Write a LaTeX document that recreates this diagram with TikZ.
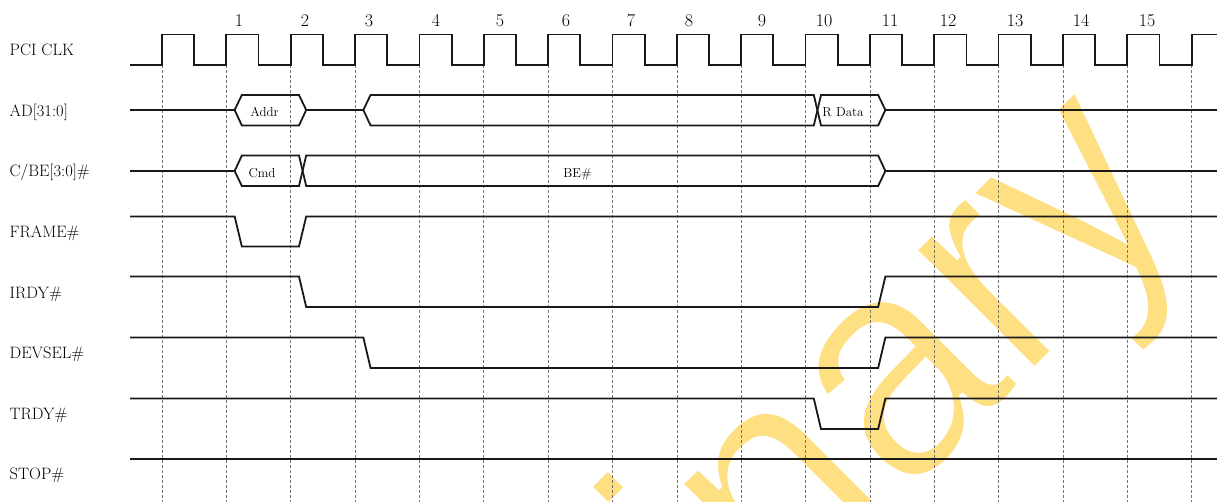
\documentclass[tikz,border=0pt]{standalone}
\usepackage{fontspec}
\newfontfamily\wmfont[FakeStretch=0.93]{Liberation Sans}
\definecolor{wmyellow}{RGB}{254,223,130}
\definecolor{sigcol}{RGB}{25,25,25}
\tikzset{
  sig/.style={line width=1.8pt, draw=sigcol, line join=miter},
  gridline/.style={draw=black!55, line width=0.6pt, dash pattern=on 3pt off 2pt},
  lbl/.style={anchor=base west, inner sep=0pt, font=\fontsize{16.5}{18}\selectfont},
  num/.style={anchor=base, inner sep=0pt, font=\fontsize{18}{20}\selectfont},
  bustext/.style={anchor=base, inner sep=0pt, font=\fontsize{13}{15}\selectfont},
  wm/.style={anchor=base west, inner sep=0pt, rotate=45, text=wmyellow,
    font=\wmfont\fontsize{320}{320}\selectfont},
}
\def\E#1{(162+64.35*(#1))}
\def\ta{8.3}
\def\tb{15.5}
\begin{document}
\begin{tikzpicture}[x=1pt,y=-1pt]
\useasboundingbox (0,0) rectangle (1217,502);
\clip (0,0) rectangle (1217,502);
% watermark
\node[wm] (wmark) at (142.9,1261.1) {\special{pdf:literal direct 2 Tr 5 w 1 1 1 RG}Preliminary\special{pdf:literal direct 0 Tr}};
% grid
\foreach \k in {0,...,16}
  \draw[gridline] ({\E{\k}},65) -- ({\E{\k}},502);
% clock
\draw[sig] (130,65)
  \foreach \k in {0,...,15}{ -- ({\E{\k}},65) -- ({\E{\k}},34.5) -- ({\E{\k}+32.2},34.5) -- ({\E{\k}+32.2},65) }
  -- ({\E{16}},65) -- ({\E{16}},34.5) -- (1217,34.5);
% clock numbers
\foreach \k/\x in {1/239,2/305,3/369,4/436,5/500,6/566,7/631,8/689,9/762,10/824,11/890,12/948,13/1015,14/1081,15/1147}
  \node[num] (n\k) at (\x,26.7) {\k};
% labels
\node[lbl] (lclk) at (9.5,55.8) {PCI CLK};
\node[lbl] (lad) at (9.5,116.4) {AD[31:0]};
\node[lbl] (lcbe) at (9.5,177) {C/BE[3:0]\#};
\node[lbl] (lframe) at (9.5,237.6) {FRAME\#};
\node[lbl] (lirdy) at (9.5,298.2) {IRDY\#};
\node[lbl] (ldevsel) at (9.5,358.8) {DEVSEL\#};
\node[lbl] (ltrdy) at (9.5,419.4) {TRDY\#};
\node[lbl] (lstop) at (9.5,479.5) {STOP\#};
% AD[31:0]
\def\m{110}\def\t{95}\def\b{125.5}
\draw[sig] (130,\m) -- ({\E{1}+\ta},\m);
\draw[sig] ({\E{1}+\ta},\m) -- ({\E{1}+\tb},\t) -- ({\E{2}+\ta},\t) -- ({\E{2}+\tb},\m)
  -- ({\E{2}+\ta},\b) -- ({\E{1}+\tb},\b) -- cycle;
\draw[sig] ({\E{2}+\tb},\m) -- ({\E{3}+\ta},\m) -- ({\E{3}+\tb},\t) -- ({\E{10}+\ta},\t)
  -- ({\E{10}+\tb},\b) -- ({\E{11}+\ta},\b) -- ({\E{11}+\tb},\m) -- (1217,\m);
\draw[sig] ({\E{3}+\ta},\m) -- ({\E{3}+\tb},\b) -- ({\E{10}+\ta},\b)
  -- ({\E{10}+\tb},\t) -- ({\E{11}+\ta},\t) -- ({\E{11}+\tb},\m);
\node[bustext] (taddr) at (264.5,117) {Addr};
\node[bustext] (trdata) at (843,116.7) {R Data};
% C/BE[3:0]#
\def\m{171}\def\t{155.5}\def\b{186}
\draw[sig] (130,\m) -- ({\E{1}+\ta},\m) -- ({\E{1}+\tb},\t) -- ({\E{2}+\ta},\t)
  -- ({\E{2}+\tb},\b) -- ({\E{11}+\ta},\b) -- ({\E{11}+\tb},\m) -- (1217,\m);
\draw[sig] ({\E{1}+\ta},\m) -- ({\E{1}+\tb},\b) -- ({\E{2}+\ta},\b)
  -- ({\E{2}+\tb},\t) -- ({\E{11}+\ta},\t) -- ({\E{11}+\tb},\m);
\node[bustext] (tcmd) at (262,177.4) {Cmd};
\node[bustext] (tbe) at (577.5,177.3) {BE\#};
% FRAME#
\def\h{216.5}\def\l{246.5}
\draw[sig] (130,\h) -- ({\E{1}+\ta},\h) -- ({\E{1}+\tb},\l) -- ({\E{2}+\ta},\l) -- ({\E{2}+\tb},\h) -- (1217,\h);
% IRDY#
\def\h{276.5}\def\l{307}
\draw[sig] (130,\h) -- ({\E{2}+\ta},\h) -- ({\E{2}+\tb},\l) -- ({\E{11}+\ta},\l) -- ({\E{11}+\tb},\h) -- (1217,\h);
% DEVSEL#
\def\h{337.5}\def\l{368}
\draw[sig] (130,\h) -- ({\E{3}+\ta},\h) -- ({\E{3}+\tb},\l) -- ({\E{11}+\ta},\l) -- ({\E{11}+\tb},\h) -- (1217,\h);
% TRDY#
\def\h{398.5}\def\l{429}
\draw[sig] (130,\h) -- ({\E{10}+\ta},\h) -- ({\E{10}+\tb},\l) -- ({\E{11}+\ta},\l) -- ({\E{11}+\tb},\h) -- (1217,\h);
% STOP#
\draw[sig] (130,459) -- (1217,459);
\end{tikzpicture}
\end{document}
